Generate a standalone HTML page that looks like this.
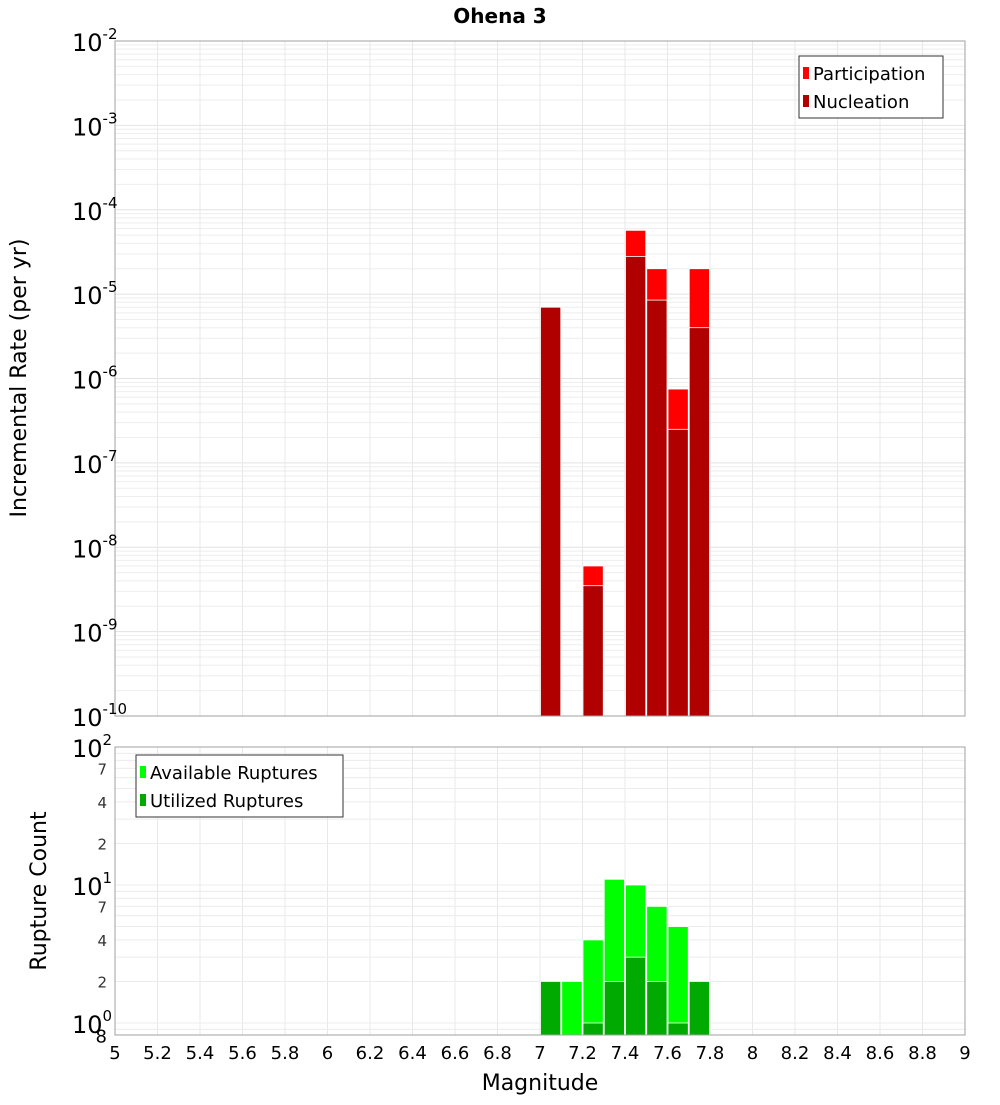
<!DOCTYPE html>
<html><head><meta charset="utf-8"><style>
body{margin:0;background:#fff;font-family:"Liberation Sans","DejaVu Sans",sans-serif}
</style></head><body>
<svg id="chart" width="1000" height="1100" xmlns="http://www.w3.org/2000/svg" font-family="DejaVu Sans, Liberation Sans, sans-serif"></svg>
<script>
const mags=[7.05,7.15,7.25,7.35,7.45,7.55,7.65,7.75];
const participation=[null,null,6e-9,null,5.7e-5,2e-5,7.5e-7,2e-5];
const nucleation=[7e-6,null,3.5e-9,null,2.8e-5,8.5e-6,2.5e-7,4e-6];
const available=[2,2,4,11,10,7,5,2];
const utilized=[2,null,1,2,3,2,1,2];
const xTicks=[5,5.2,5.4,5.6,5.8,6,6.2,6.4,6.6,6.8,7,7.2,7.4,7.6,7.8,8,8.2,8.4,8.6,8.8,9];
const topExp=[-2,-3,-4,-5,-6,-7,-8,-9,-10];
const botMinor=[2,4,7];

const svg=document.getElementById('chart');
const NS='http://www.w3.org/2000/svg';
function mk(tag,attrs,parent){const e=document.createElementNS(NS,tag);for(const k in attrs)e.setAttribute(k,attrs[k]);(parent||svg).appendChild(e);return e;}
const L=115,R=965;
const x=m=>L+(m-5)/4*(R-L);
const T0=41,T1=716;
const yTop=v=>T0+(-2-Math.log10(v))*(T1-T0)/8;
const B0=747,B1=1035,BD=138,B10=1023;
const yBot=v=>B10-Math.log10(v)*BD;

// title
let t=mk('text',{x:500,y:23,'text-anchor':'middle','font-size':20,'font-weight':'bold'});t.textContent='Ohena 3';


// top plot grid
let g=mk('g',{});
for(let e=-10;e<-2;e++){for(let k=1;k<10;k++){const yy=yTop(k*Math.pow(10,e));mk('line',{x1:L,x2:R,y1:yy,y2:yy,stroke:k==1?'#e2e2e2':'#eeeeee','stroke-width':1},g);}}
xTicks.forEach(v=>{mk('line',{x1:x(v),x2:x(v),y1:T0,y2:T1,stroke:'#e8e8e8'},g);mk('line',{x1:x(v),x2:x(v),y1:B0,y2:B1,stroke:'#e8e8e8'},g);});
for(let d=-1;d<2;d++){for(let k=1;k<10;k++){const yy=yBot(k*Math.pow(10,d));if(yy>=B0&&yy<=B1)mk('line',{x1:L,x2:R,y1:yy,y2:yy,stroke:'#ececec'},g);}}

// top bars
const bw=(x(7.1)-x(7.0));
mags.forEach((m,i)=>{
  if(participation[i]!=null){const r=mk('rect',{x:x(m)-bw/2+0.5,y:yTop(participation[i]),width:bw-1,height:T1-yTop(participation[i]),fill:'#ff0000',stroke:'#fff','stroke-width':0.8});
    }
  if(nucleation[i]!=null){const r=mk('rect',{x:x(m)-bw/2+0.5,y:yTop(nucleation[i]),width:bw-1,height:T1-yTop(nucleation[i]),fill:'#b00000',stroke:'#fff','stroke-width':0.8});
    }
});
// bottom bars
mags.forEach((m,i)=>{
  const r=mk('rect',{x:x(m)-bw/2+0.5,y:yBot(available[i]),width:bw-1,height:B1-yBot(available[i]),fill:'#00ff00',stroke:'#fff','stroke-width':0.8});
  
  if(utilized[i]!=null){const u=mk('rect',{x:x(m)-bw/2+0.5,y:yBot(utilized[i]),width:bw-1,height:B1-yBot(utilized[i]),fill:'#00aa00',stroke:'#fff','stroke-width':0.8});
    }
});

// frames
let f1=mk('rect',{x:L,y:T0,width:R-L,height:T1-T0,fill:'none',stroke:'#a0a0a0'});
let f2=mk('rect',{x:L,y:B0,width:R-L,height:B1-B0,fill:'none',stroke:'#a0a0a0'});

// top y ticks
topExp.forEach(e=>{const yy=yTop(Math.pow(10,e));
  const tx=mk('text',{x:72,y:yy+10,'font-size':24});
  tx.textContent='10';const s=mk('tspan',{dy:-12,'font-size':15},tx);s.textContent=String(e);});
// bottom y ticks
[2,1,0].forEach(d=>{const yy=yBot(Math.pow(10,d));
  const tx=mk('text',{x:72,y:yy+10,'font-size':24});
  tx.textContent='10';const s=mk('tspan',{dy:-12,'font-size':15},tx);s.textContent=String(d);});
[1,0].forEach(d=>botMinor.forEach(k=>{const yy=yBot(k*Math.pow(10,d));
  const tx=mk('text',{x:107,y:yy+6,'font-size':15,'text-anchor':'end',fill:'#333'});tx.textContent=String(k);
  }));
{const tx=mk('text',{x:107,y:yBot(0.8)+6,'font-size':18,'text-anchor':'end'});tx.textContent='8';}

// x ticks
xTicks.forEach(v=>{const tx=mk('text',{x:x(v),y:1059,'font-size':18,'text-anchor':'middle'});tx.textContent=String(v);
  });
let xl=mk('text',{x:540,y:1090,'font-size':22,'text-anchor':'middle'});xl.textContent='Magnitude';
let y1=mk('text',{x:0,y:0,'font-size':22,'text-anchor':'middle',transform:'translate(26,378) rotate(-90)'});y1.textContent='Incremental Rate (per yr)';
let y2=mk('text',{x:0,y:0,'font-size':22,'text-anchor':'middle',transform:'translate(46,891) rotate(-90)'});y2.textContent='Rupture Count';

// legends
function legend(x0,y0,w,items,name){const lg=mk('g',{});
  mk('rect',{x:x0,y:y0,width:w,height:62,fill:'#fff',stroke:'#333'},lg);
  items.forEach((it,i)=>{mk('rect',{x:x0+4,y:y0+11+i*28,width:6,height:12,fill:it[1]},lg);
    const tx=mk('text',{x:x0+14,y:y0+24+i*28,'font-size':18},lg);tx.textContent=it[0];
    });}
legend(799,56,144,[['Participation','#ff0000'],['Nucleation','#b00000']],'top-legend');
legend(136,755,207,[['Available Ruptures','#00ff00'],['Utilized Ruptures','#00aa00']],'bottom-legend');
</script>
</body></html>
